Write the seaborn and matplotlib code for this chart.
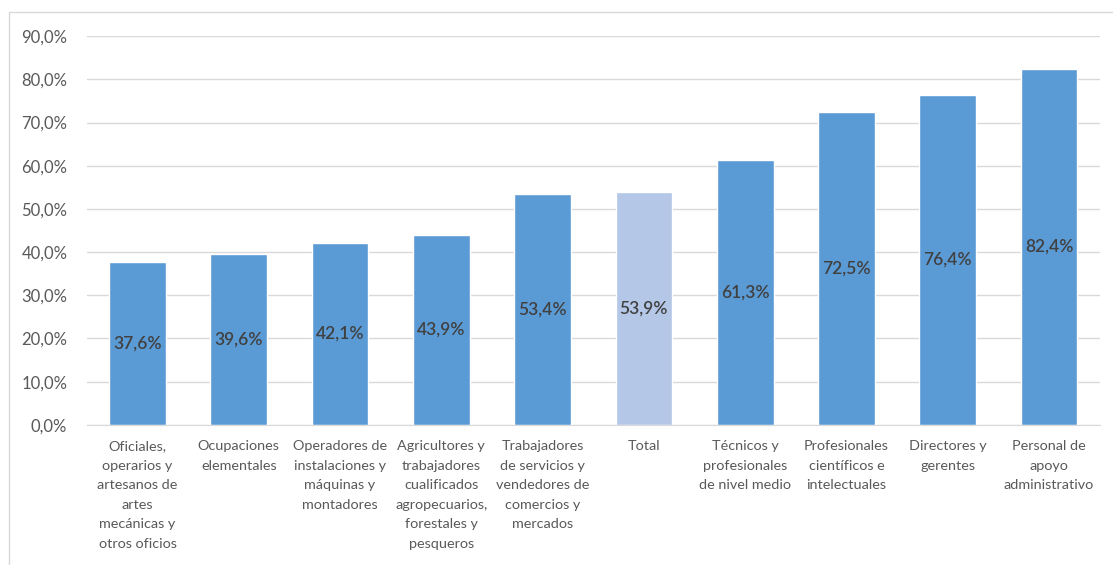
import matplotlib
matplotlib.use('Agg')
import matplotlib.pyplot as plt
import seaborn as sns
import pandas as pd
from matplotlib.patches import Rectangle

categorias = [
    "Oficiales,\noperarios y\nartesanos de\nartes\nmecánicas y\notros oficios",
    "Ocupaciones\nelementales",
    "Operadores de\ninstalaciones y\nmáquinas y\nmontadores",
    "Agricultores y\ntrabajadores\ncualificados\nagropecuarios,\nforestales y\npesqueros",
    "Trabajadores\nde servicios y\nvendedores de\ncomercios y\nmercados",
    "Total",
    "Técnicos y\nprofesionales\nde nivel medio",
    "Profesionales\ncientíficos e\nintelectuales",
    "Directores y\ngerentes",
    "Personal de\napoyo\nadministrativo",
]
valores = [37.6, 39.6, 42.1, 43.9, 53.4, 53.9, 61.3, 72.5, 76.4, 82.4]
y_ticks = [0, 10, 20, 30, 40, 50, 60, 70, 80, 90]

azul = "#5B9BD5"
azul_claro = "#B4C7E7"
colores = [azul_claro if c == "Total" else azul for c in categorias]

df = pd.DataFrame({"cat": categorias, "val": valores})

sns.set_style("white")
plt.rcParams['font.family'] = ['Lato', 'DejaVu Sans']

fig = plt.figure(figsize=(11.13, 5.65), dpi=100)
ax = fig.add_axes([0.078, 0.248, 0.91, 0.688])

sns.barplot(data=df, x="cat", y="val", hue="cat", palette=colores,
            width=0.56, legend=False, ax=ax, saturation=1)

ax.set_ylim(0, 90)
ax.set_xlim(-0.5, len(categorias) - 0.5)
ax.set_yticks(y_ticks)
ax.set_yticklabels([f"{t:.1f}%".replace(".", ",") for t in y_ticks])
ax.yaxis.grid(True, color="#D9D9D9", linewidth=1)
ax.set_axisbelow(True)
for s in ["top", "right", "left"]:
    ax.spines[s].set_visible(False)
ax.spines["bottom"].set_color("#D9D9D9")
ax.set_xlabel("")
ax.set_ylabel("")
ax.tick_params(axis="y", length=0, labelsize=12, labelcolor="#595959", pad=14)
ax.tick_params(axis="x", length=0, labelsize=10.4, labelcolor="#595959", pad=11)
for lbl in ax.get_xticklabels():
    lbl.set_linespacing(1.75)
    lbl.set_verticalalignment("top")

for i, v in enumerate(valores):
    ax.text(i, v / 2, f"{v:.1f}%".replace(".", ","), ha="center", va="center",
            fontsize=12.5, color="#404040", fontweight="semibold")

fig.patches.append(Rectangle((9 / 1113, -0.1), 1.2, 1.1 - 12 / 565,
                             transform=fig.transFigure, fill=False,
                             edgecolor="#D9D9D9", linewidth=1))

fig.savefig("out.png", dpi=100)
plt.close(fig)
